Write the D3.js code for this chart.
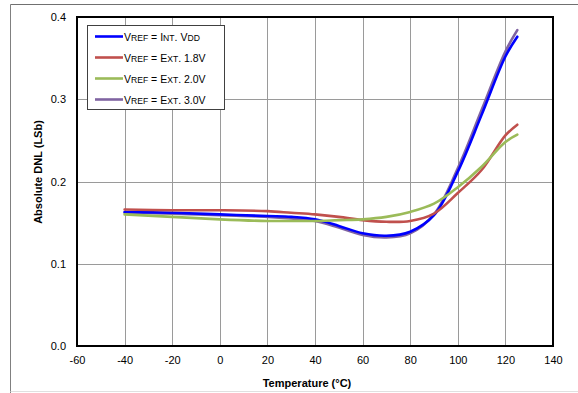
<!DOCTYPE html>
<html><head><meta charset="utf-8">
<script src="https://cdn.jsdelivr.net/npm/d3@7"></script>
<style>body{margin:0;background:#fff;}svg{display:block;font-family:"Liberation Sans",Arial,sans-serif;}</style>
</head><body>
<svg id="c" width="578" height="393"></svg>
<script>
const temps = [-40, -20, 0, 20, 30, 40, 50, 60, 70, 80, 90, 100, 110, 120, 125];
const intVdd = [0.163, 0.162, 0.160, 0.158, 0.157, 0.154, 0.146, 0.137, 0.134, 0.139, 0.159, 0.212, 0.281, 0.352, 0.376];
const ext18  = [0.166, 0.165, 0.165, 0.164, 0.162, 0.160, 0.157, 0.153, 0.151, 0.152, 0.161, 0.186, 0.214, 0.256, 0.269];
const ext20  = [0.160, 0.157, 0.154, 0.152, 0.152, 0.152, 0.153, 0.154, 0.157, 0.163, 0.173, 0.193, 0.218, 0.248, 0.257];
const ext30  = [0.162, 0.161, 0.159, 0.157, 0.155, 0.152, 0.144, 0.135, 0.132, 0.137, 0.160, 0.216, 0.287, 0.358, 0.384];
const xTicks = [-60, -40, -20, 0, 20, 40, 60, 80, 100, 120, 140];
const yTicks = [0.0, 0.1, 0.2, 0.3, 0.4];
const seriesNames = [
  [["V",0],["REF",1],[" = ",0],["I",0],["NT",1],[". ",0],["V",0],["DD",1]],
  [["V",0],["REF",1],[" = ",0],["E",0],["XT",1],[". 1.8V",0]],
  [["V",0],["REF",1],[" = ",0],["E",0],["XT",1],[". 2.0V",0]],
  [["V",0],["REF",1],[" = ",0],["E",0],["XT",1],[". 3.0V",0]]
];
const seriesColors = ["#0000ff", "#c0504d", "#9bbb59", "#8064a2"];
const seriesValues = [intVdd, ext18, ext20, ext30];

const svg = d3.select("#c");
const L = 77, R = 553, T = 17, B = 346;
const x = d3.scaleLinear().domain([-60, 140]).range([L, R]);
const y = d3.scaleLinear().domain([0, 0.4]).range([B, T]);

// outer frame
svg.append("line").attr("x1",10.5).attr("x2",10.5).attr("y1",4.5).attr("y2",393).attr("stroke","#808080");
svg.append("line").attr("x1",10.5).attr("x2",578).attr("y1",4.5).attr("y2",4.5).attr("stroke","#707070");
svg.append("line").attr("x1",10.5).attr("x2",578).attr("y1",391.5).attr("y2",391.5).attr("stroke","#e0e0e0");

// grid
const g = svg.append("g");
g.selectAll(".vg").data(xTicks.slice(1,-1)).join("line")
  .attr("x1",d=>Math.round(x(d))+0.5).attr("x2",d=>Math.round(x(d))+0.5)
  .attr("y1",T).attr("y2",B).attr("stroke","#9a9a9a").attr("stroke-width",1);
g.selectAll(".hg").data(yTicks.slice(1,-1)).join("line")
  .attr("x1",L).attr("x2",R)
  .attr("y1",d=>Math.round(y(d))+0.5).attr("y2",d=>Math.round(y(d))+0.5)
  .attr("stroke","#9a9a9a").attr("stroke-width",1);

// axes with d3 axis
const xAxis = d3.axisBottom(x).tickValues(xTicks).tickSize(0).tickPadding(10).tickFormat(d => String(d));
const yAxis = d3.axisLeft(y).tickValues(yTicks).tickSize(0).tickPadding(11).tickFormat(d => d.toFixed(1));
const xa = svg.append("g").attr("transform",`translate(0,${B})`).call(xAxis);
const ya = svg.append("g").attr("transform",`translate(${L},0)`).call(yAxis);
[xa, ya].forEach(a => {
  a.select(".domain").remove();
  a.selectAll("text").attr("font-size","11px").attr("fill","#000").attr("font-family","Liberation Sans, Arial, sans-serif");
});

// lines
const line = d3.line().x(d=>x(d[0])).y(d=>y(d[1])).curve(d3.curveCatmullRom.alpha(0.5));
const drawOrder = [3, 0, 1, 2];
drawOrder.forEach(i => {
  svg.append("path").datum(temps.map((t,j)=>[t, seriesValues[i][j]]))
    .attr("d", line).attr("fill","none").attr("stroke",seriesColors[i])
    .attr("stroke-width",2.6).attr("stroke-linecap","round");
});

// plot frame
svg.append("rect").attr("x",L).attr("y",T).attr("width",R-L).attr("height",B-T)
  .attr("fill","none").attr("stroke","#000").attr("stroke-width",2);

// axis titles
svg.append("text").attr("x",307).attr("y",387).attr("text-anchor","middle")
  .attr("font-size","11px").attr("font-weight","bold").text("Temperature (°C)");
svg.append("text").attr("transform","translate(42,172) rotate(-90)").attr("text-anchor","middle")
  .attr("font-size","11px").attr("font-weight","bold").text("Absolute DNL (LSb)");

// legend
const lg = svg.append("g");
lg.append("rect").attr("x",87.5).attr("y",25.5).attr("width",137).attr("height",84)
  .attr("fill","#fff").attr("stroke","#404040").attr("stroke-width",1);
seriesNames.forEach((parts,i) => {
  const cy = 36.5 + i*21;
  lg.append("line").attr("x1",95).attr("x2",123).attr("y1",cy).attr("y2",cy)
    .attr("stroke",seriesColors[i]).attr("stroke-width",2.6);
  const t = lg.append("text").attr("x",124).attr("y",cy+4).attr("font-size","10.5px");
  parts.forEach(p => t.append("tspan").attr("font-size", p[1] ? "8.6px" : "10.5px").text(p[0]));
});
</script>
</body></html>
